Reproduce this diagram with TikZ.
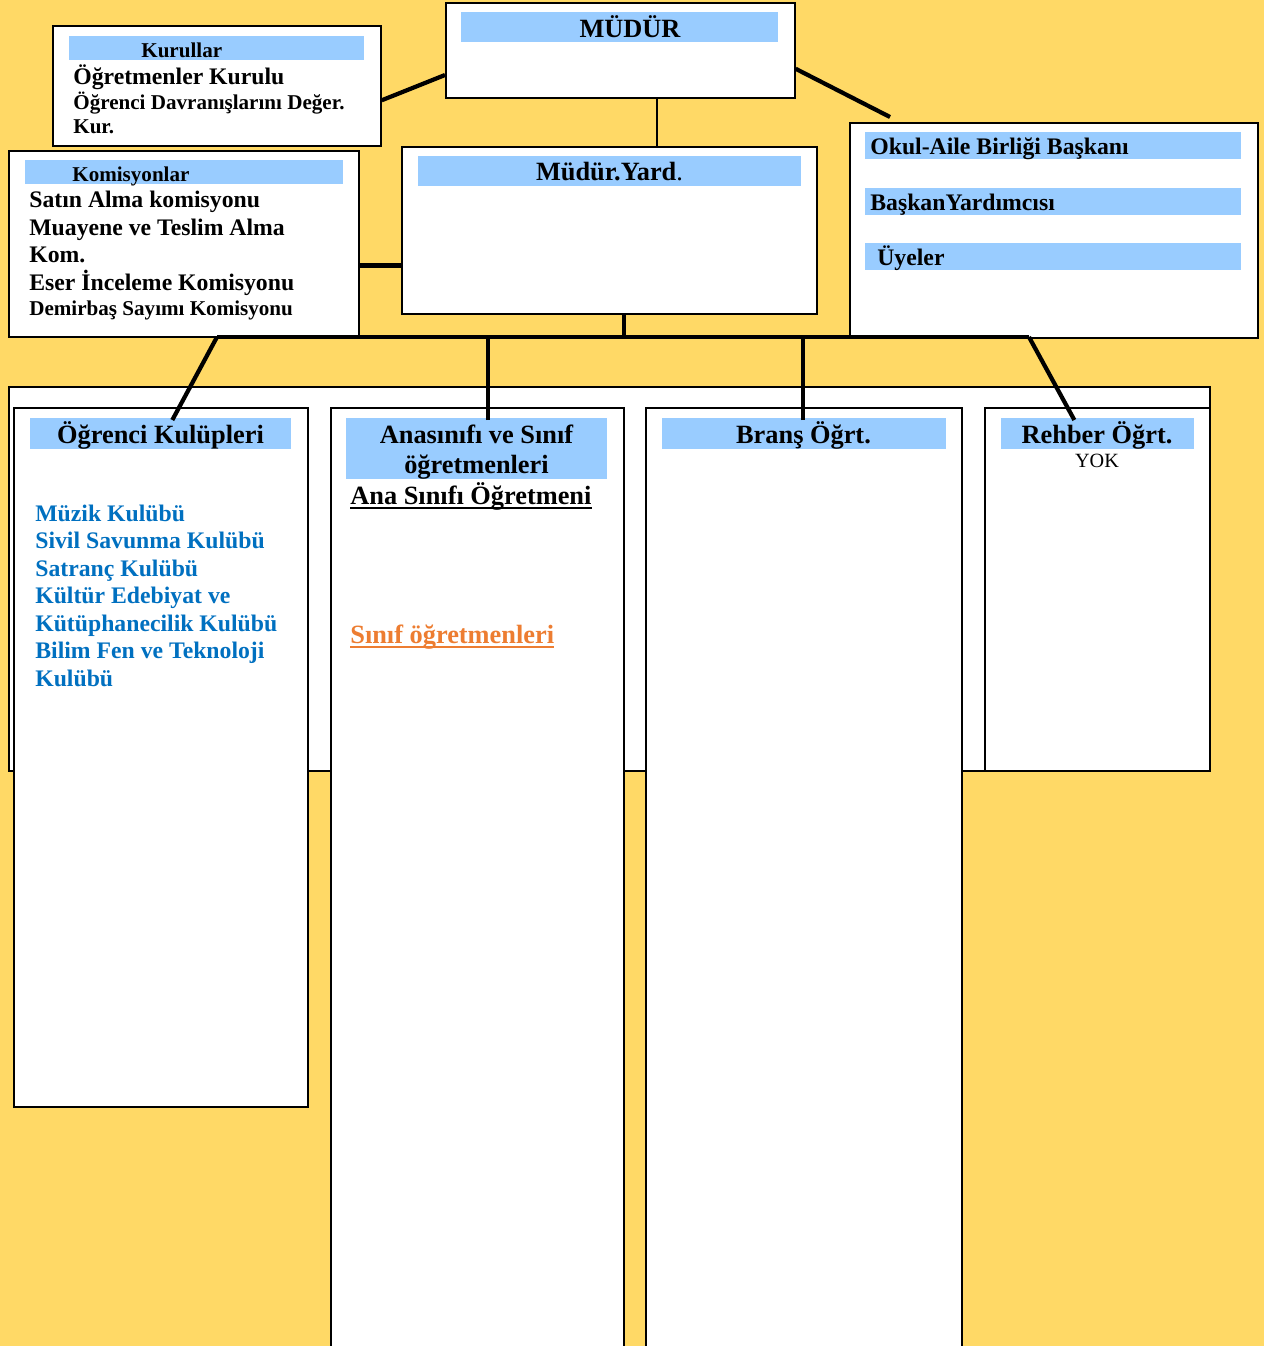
\documentclass[tikz,border=0pt]{standalone}
\usepackage{fontspec}
\setmainfont{Liberation Serif}
\usetikzlibrary{calc}
\definecolor{bgyellow}{RGB}{255,217,102}
\definecolor{barblue}{RGB}{153,204,255}
\definecolor{clubblue}{RGB}{0,112,192}
\definecolor{sinifor}{RGB}{237,125,49}

\begin{document}
\begin{tikzpicture}[x=0.02cm, y=-0.02cm]
	\tikzstyle{box} = [draw, fill=white, line width=1pt, inner sep=0pt, anchor=north west]
	\tikzstyle{bar} = [fill=barblue, inner sep=0pt, anchor=north west]
	\tikzstyle{head} = [inner sep=0pt, anchor=base, font=\bfseries\fontsize{15}{18}\selectfont]
	\tikzstyle{listline} = [inner sep=0pt, anchor=base west, font=\bfseries\fontsize{13.5}{16}\selectfont]
	\tikzstyle{smalline} = [listline, font=\bfseries\fontsize{12}{14}\selectfont]
	\tikzstyle{club} = [listline, text=clubblue]
	\tikzstyle{link} = [line width=2.4pt]
	\tikzstyle{stem} = [line width=1.1pt]
	\tikzstyle{under} = [line width=1.2pt]
	\useasboundingbox (0,0) rectangle (1264,1346);
	\clip (0,0) rectangle (1264,1346);
	\fill[bgyellow] (0,0) rectangle (1264,1346);

	\node[box, minimum width=6.56cm, minimum height=2.4cm] (kurul) at (52,25) {};
	\node[box, minimum width=6.98cm, minimum height=1.9cm] (mudur) at (445,2) {};
	\node[box, minimum width=8.16cm, minimum height=4.3cm] (okul) at (849,122) {};
	\node[box, minimum width=7cm, minimum height=3.72cm] (komis) at (8,150) {};
	\node[box, minimum width=8.3cm, minimum height=3.34cm] (yard) at (401,146) {};
	\node[box, minimum width=24.02cm, minimum height=7.68cm] (alt) at (8,386) {};
	\node[box, minimum width=5.88cm, minimum height=13.98cm] (kulup) at (13,407) {};
	\node[box, minimum width=5.86cm, minimum height=18.86cm] (ana) at (330,407) {};
	\node[box, minimum width=6.32cm, minimum height=18.86cm] (brans) at (645,407) {};
	\node[box, minimum width=4.5cm, minimum height=7.26cm] (rehber) at (984,407) {};

	\node[bar, minimum width=5.9cm, minimum height=0.48cm] (kurulbar) at (69,36) {};
	\node[bar, minimum width=6.34cm, minimum height=0.6cm] (mudurbar) at (461,12) {};
	\node[bar, minimum width=7.52cm, minimum height=0.54cm] (okulbar1) at (865,132) {};
	\node[bar, minimum width=7.52cm, minimum height=0.54cm] (okulbar2) at (865,188) {};
	\node[bar, minimum width=7.52cm, minimum height=0.54cm] (okulbar3) at (865,243) {};
	\node[bar, minimum width=6.36cm, minimum height=0.48cm] (komisbar) at (25,160) {};
	\node[bar, minimum width=7.66cm, minimum height=0.6cm] (yardbar) at (418,156) {};
	\node[bar, minimum width=5.22cm, minimum height=0.62cm] (kulupbar) at (30,418) {};
	\node[bar, minimum width=5.22cm, minimum height=1.22cm] (anabar) at (346,418) {};
	\node[bar, minimum width=5.68cm, minimum height=0.62cm] (bransbar) at (662,418) {};
	\node[bar, minimum width=3.86cm, minimum height=0.62cm] (rehberbar) at (1001,418) {};

	\node[smalline] (kurult) at (141,57) {Kurullar};
	\node[listline] (kurul1) at (73,84) {Öğretmenler Kurulu};
	\node[smalline] (kurul2) at (73,109) {Öğrenci Davranışlarını Değer.};
	\node[smalline] (kurul3) at (73,133) {Kur.};

	\node[head] (mudurt) at (630,37) {MÜDÜR};
	\node[head] (yardt) at (609.5,180) {Müdür.Yard{\mdseries.}};

	\node[listline] (okul1) at (870,154) {Okul-Aile Birliği Başkanı};
	\node[listline] (okul2) at (870,210) {BaşkanYardımcısı};
	\node[listline] (okul3) at (877,265) {Üyeler};

	\node[smalline] (komist) at (72,181) {Komisyonlar};
	\node[listline] (komis1) at (29,207) {Satın Alma komisyonu};
	\node[listline] (komis2) at (29,235) {Muayene ve Teslim Alma};
	\node[listline] (komis3) at (29,262) {Kom.};
	\node[listline] (komis4) at (29,290) {Eser İnceleme Komisyonu};
	\node[smalline] (komis5) at (29,315) {Demirbaş Sayımı Komisyonu};

	\node[head] (kulupt) at (160.5,443) {Öğrenci Kulüpleri};
	\node[head] (anat1) at (476.5,443) {Anasınıfı ve Sınıf};
	\node[head] (anat2) at (476.5,473) {öğretmenleri};
	\node[head] (branst) at (803.5,443) {Branş Öğrt.};
	\node[head] (rehbert) at (1097,443) {Rehber Öğrt.};
	\node[inner sep=0pt, anchor=base, font=\fontsize{11.5}{14}\selectfont] (yok) at (1097,467) {YOK};

	\foreach \t [count=\i from 0] in {Müzik Kulübü, Sivil Savunma Kulübü, Satranç Kulübü, Kültür Edebiyat ve, Kütüphanecilik Kulübü, Bilim Fen ve Teknoloji, Kulübü}
		\node[club] (club\i) at (35,{521+27.5*\i}) {\t};

	\node[head, anchor=base west] (anasinif) at (350,504) {Ana Sınıfı Öğretmeni};
	\draw[under] ($(anasinif.base west)+(0,4)$) -- ($(anasinif.base east)+(0,4)$);
	\node[head, anchor=base west, text=sinifor] (sinif) at (350,643) {Sınıf öğretmenleri};
	\draw[under, sinifor] ($(sinif.base west)+(0,4)$) -- ($(sinif.base east)+(0,4)$);

	\draw[link] (kurul.-5) -- (mudur.188);
	\draw[link] (mudur.-6) -- ($(okul.north west)+(41,-5)$);
	\draw[stem] ($(mudur.south)+(36.5,0)$) coordinate (m1) -- (yard.north -| m1);
	\draw[link] (komis.-7) -- (komis.-7 -| yard.west);
	\coordinate (hub) at ($(yard.south)+(14.5,24)$);
	\coordinate (busL) at (217,337);
	\coordinate (busR) at (1029,337);
	\draw[link] (yard.south -| hub) -- (hub);
	\draw[link] (busL) -- (busR);
	\draw[link] (busL) -- ($(kulupbar.north)+(11.5,2)$);
	\draw[link] ($(anabar.north)+(11.5,2)$) coordinate (a1) -- (a1 |- busL);
	\draw[link] ($(bransbar.north)+(-1,2)$) coordinate (b1) -- (b1 |- busL);
	\draw[link] (busR) -- ($(rehberbar.north)+(-23.5,2)$);
\end{tikzpicture}
\end{document}
